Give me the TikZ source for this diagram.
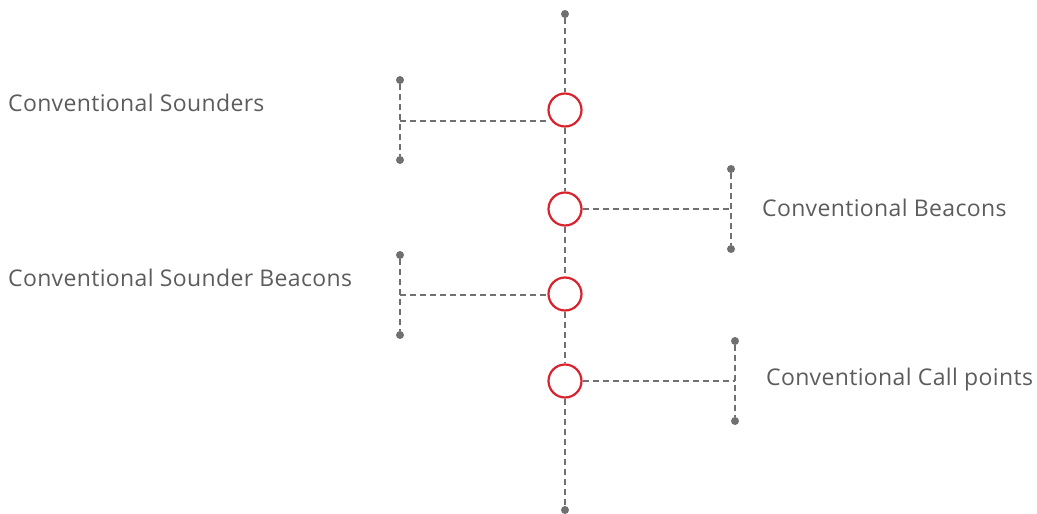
\documentclass[tikz,border=0pt]{standalone}
\usepackage{fontspec}
\setmainfont{Open Sans}[LetterSpace=1.5]
\definecolor{linegray}{HTML}{707072}
\definecolor{textgray}{HTML}{5C5C5E}
\definecolor{ringred}{HTML}{D9232E}
\begin{document}
\begin{tikzpicture}[x=1pt,y=-1pt,
  ring/.style={circle,draw=ringred,line width=2.2pt,minimum size=33pt,inner sep=0pt,fill=white},
  enddot/.style={circle,fill=linegray,minimum size=8pt,inner sep=0pt},
  wire/.style={draw=linegray,line width=1.8pt,dash pattern=on 6pt off 4pt},
  label/.style={anchor=west,text=textgray,font=\fontsize{23}{27}\selectfont,inner sep=0pt}]
\useasboundingbox (0,0) rectangle (1037,514);
% main line
\node[enddot] (top) at (565,14) {};
\node[enddot] (bot) at (565,510) {};
\node[ring] (c1) at (565,110) {};
\node[ring] (c2) at (565,209) {};
\node[ring] (c3) at (565,294) {};
\node[ring] (c4) at (565,381) {};
\draw[wire] (top) -- (c1);
\draw[wire] (c1) -- (c2);
\draw[wire] (c2) -- (c3);
\draw[wire] (c3) -- (c4);
\draw[wire] (c4) -- (bot);
% branch 1 (left)
\node[enddot] (a1) at (400,80) {};
\node[enddot] (b1) at (400,160) {};
\coordinate (j1) at (400,121);
\draw[wire] (a1) -- (b1);
\draw[wire] (j1) -- (c1.west |- j1);
% branch 2 (right)
\node[enddot] (a2) at (731,169) {};
\node[enddot] (b2) at (731,249) {};
\coordinate (j2) at (731,209);
\draw[wire] (a2) -- (b2);
\draw[wire] (c2.east) -- (j2);
% branch 3 (left)
\node[enddot] (a3) at (400,255) {};
\node[enddot] (b3) at (400,335) {};
\coordinate (j3) at (400,295);
\draw[wire] (a3) -- (b3);
\draw[wire] (j3) -- (c3.west |- j3);
% branch 4 (right)
\node[enddot] (a4) at (735,341) {};
\node[enddot] (b4) at (735,421) {};
\coordinate (j4) at (735,381);
\draw[wire] (a4) -- (b4);
\draw[wire] (c4.east) -- (j4);
% labels
\node[label] (t1) at (8,103) {Conventional Sounders};
\node[label] (t2) at (762,208) {Conventional Beacons};
\node[label] (t3) at (8,278) {Conventional Sounder Beacons};
\node[label] (t4) at (766,380) {Conventional Call points};
\end{tikzpicture}
\end{document}
